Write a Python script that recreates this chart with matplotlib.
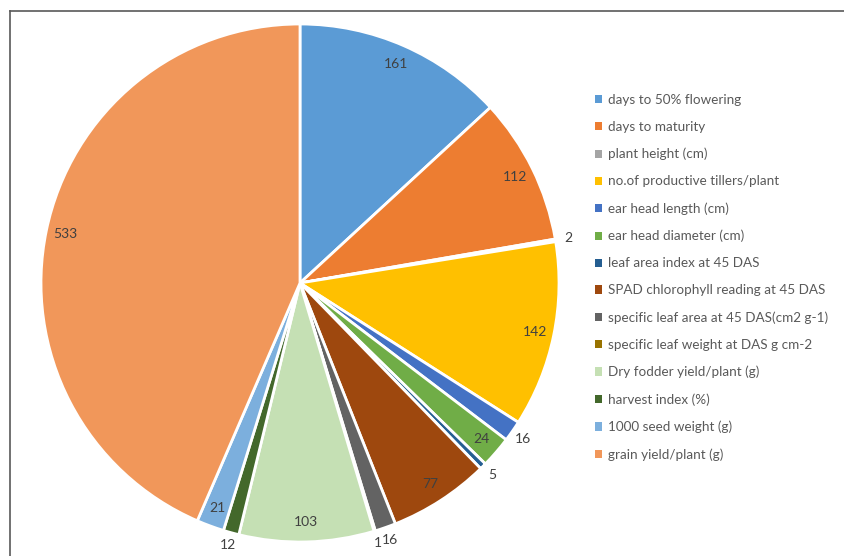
import numpy as np
import matplotlib
matplotlib.use("Agg")
import matplotlib.pyplot as plt
from matplotlib.lines import Line2D

categories = [
    "days to 50% flowering",
    "days to maturity",
    "plant height (cm)",
    "no.of productive tillers/plant",
    "ear head length (cm)",
    "ear head diameter (cm)",
    "leaf area index at 45 DAS",
    "SPAD chlorophyll reading at 45 DAS",
    "specific leaf area at 45 DAS(cm2 g-1)",
    "specific leaf weight at DAS g cm-2",
    "Dry fodder yield/plant (g)",
    "harvest index (%)",
    "1000 seed weight (g)",
    "grain yield/plant (g)",
]
values = [161, 112, 2, 142, 16, 24, 5, 77, 16, 1, 103, 12, 21, 533]
colors = ["#5B9BD5", "#ED7D31", "#A5A5A5", "#FFC000", "#4472C4", "#70AD47",
          "#255E91", "#9E480E", "#636363", "#997300", "#C5E0B4", "#43682B",
          "#7CAFDD", "#F1975A"]

plt.rcParams['font.family'] = ['Lato', 'DejaVu Sans']

fig = plt.figure(figsize=(8.44, 5.56), dpi=100)
ax = fig.add_axes([41/844, 14/556, 518/844, 518/556])

wedges, _ = ax.pie(values, colors=colors, startangle=90, counterclock=False,
                   radius=1.0, wedgeprops=dict(edgecolor="white", linewidth=2))
ax.set_xlim(-1, 1)
ax.set_ylim(-1, 1)
ax.set_aspect("equal")
ax.axis("off")

for w, v in zip(wedges, values):
    mid = np.deg2rad((w.theta1 + w.theta2) / 2)
    d = 1.05 if v <= 16 else 0.925
    x, y = d * np.cos(mid), d * np.sin(mid)
    ax.text(x, y, str(v), ha="center", va="center", fontsize=10,
            color="#404040", clip_on=False)

handles = [plt.Rectangle((0, 0), 1, 1, facecolor=c, edgecolor="none") for c in colors]
fig.legend(handles, categories, loc="upper left",
           bbox_to_anchor=(595/844, 1 - 94/556), frameon=False,
           fontsize=9.7, labelcolor="#595959", handlelength=0.55,
           handleheight=0.55, handletextpad=0.45, labelspacing=1.11,
           borderaxespad=0, borderpad=0)

# chart frame
fig.add_artist(Line2D([10/844, 10/844], [0, 1 - 11/556], color="#595959", lw=1.2,
                      transform=fig.transFigure))
fig.add_artist(Line2D([10/844, 1], [1 - 11/556, 1 - 11/556], color="#595959", lw=1.2,
                      transform=fig.transFigure))

fig.savefig("out.png", dpi=100)
